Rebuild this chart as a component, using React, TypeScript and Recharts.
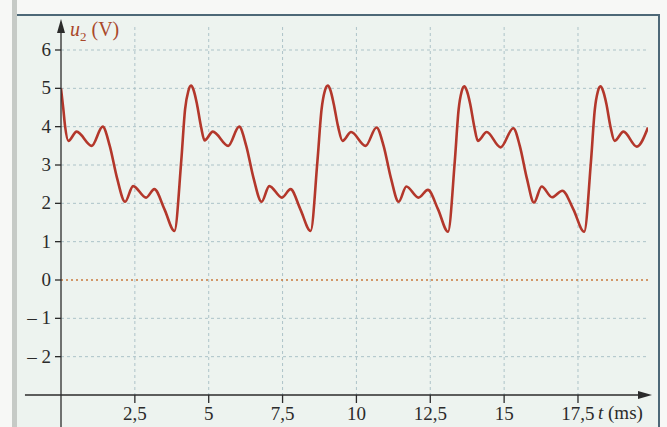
import { LineChart, Line, XAxis, YAxis, CartesianGrid, ReferenceLine } from 'recharts';

// t in ms, u2 in V (local extrema + a few points on the steep parts)
const times = [
  0, 0.08, 0.14, 0.25, 0.53, 1.04, 1.41, 1.65, 1.9, 2.17, 2.44, 2.88, 3.16, 3.5, 3.84, 4.07, 4.2, 4.31,
  4.4, 4.49, 4.6, 4.74, 4.86, 5.14, 5.66, 6.03, 6.27, 6.52, 6.79, 7.05, 7.48, 7.77, 8.1, 8.45, 8.68, 8.82, 8.93,
  9.03, 9.12, 9.23, 9.38, 9.53, 9.82, 10.31, 10.68, 10.92, 11.17, 11.43, 11.69, 12.1, 12.42, 12.76, 13.1, 13.33, 13.46, 13.56,
  13.65, 13.74, 13.85, 13.99, 14.11, 14.41, 14.88, 15.31, 15.53, 15.77, 16.01, 16.27, 16.62, 16.97, 17.34, 17.71, 17.94, 18.07, 18.17,
  18.26, 18.35, 18.46, 18.6, 18.74, 19.04, 19.49, 19.87,
];
const volts = [
  5.0, 4.45, 4.0, 3.63, 3.87, 3.5, 4.0, 3.5, 2.65, 2.04, 2.45, 2.15, 2.37, 1.85, 1.28, 3.1, 4.45, 4.93,
  5.07, 4.95, 4.6, 4.0, 3.64, 3.87, 3.5, 4.0, 3.5, 2.65, 2.04, 2.45, 2.15, 2.37, 1.85, 1.28, 3.1, 4.45, 4.93,
  5.07, 4.95, 4.6, 4.0, 3.63, 3.86, 3.5, 3.98, 3.5, 2.65, 2.04, 2.44, 2.15, 2.35, 1.85, 1.26, 3.1, 4.45, 4.91,
  5.05, 4.93, 4.6, 4.0, 3.63, 3.86, 3.46, 3.96, 3.5, 2.65, 2.02, 2.44, 2.16, 2.33, 1.85, 1.26, 3.1, 4.45, 4.91,
  5.05, 4.93, 4.6, 4.0, 3.63, 3.87, 3.48, 3.98,
];

const xTicks = [2.5, 5, 7.5, 10, 12.5, 15, 17.5];
const xTickLabels = ['2,5', '5', '7,5', '10', '12,5', '15', '17,5'];
const yTicks = [-2, -1, 0, 1, 2, 3, 4, 5, 6];
const yTickLabels = ['– 2', '– 1', '0', '1', '2', '3', '4', '5', '6'];
const gridRows = [-2, -1, 1, 2, 3, 4, 5, 6];

const data = times.map((t, i) => ({ t, u: volts[i] }));

const serif = '"Liberation Serif", "DejaVu Serif", serif';
const ink = '#2b2b2b';
const curve = '#b3372b';
const labelBrown = '#a9482a';

const XTick = ({ x, y, payload }: any) => (
  <text x={x} y={y} dy={15} textAnchor="middle" fill={ink} fontSize={19} fontFamily={serif}>
    {xTickLabels[xTicks.indexOf(payload.value)]}
  </text>
);

const YTick = ({ x, y, payload }: any) => (
  <text x={x} y={y} dy={6} textAnchor="end" fill={ink} fontSize={19} fontFamily={serif} style={{ whiteSpace: 'pre' }}>
    {yTickLabels[yTicks.indexOf(payload.value)]}
  </text>
);

const App = () => {
  return (
    <div style={{ position: 'absolute', left: 0, top: 0, width: 667, height: 427, background: '#f7f8f6', overflow: 'hidden' }}>
      {/* scanned page: grey binding edge + framed panel */}
      <div style={{ position: 'absolute', left: 12, top: 0, width: 5, height: 427, background: '#c6cac6' }} />
      <div
        style={{
          position: 'absolute', left: 17, top: 14, width: 641, height: 420,
          background: '#edf3ef', borderTop: '2px solid #4d6877', borderRight: '2px solid #4d6877',
        }}
      />

      <svg width={0} height={0} style={{ position: 'absolute' }}>
        <defs>
          <marker id="arrowRight" markerWidth={14} markerHeight={10} refX={10} refY={5} orient="0" markerUnits="userSpaceOnUse">
            <path d="M0,1 L14,5 L0,9 Z" fill={ink} />
          </marker>
          <marker id="arrowUp" markerWidth={10} markerHeight={14} refX={5} refY={8} orient="0" markerUnits="userSpaceOnUse">
            <path d="M1,14 L5,0 L9,14 Z" fill={ink} />
          </marker>
        </defs>
      </svg>

      <div style={{ position: 'absolute', left: 0, top: 0 }}>
        <LineChart width={667} height={427} data={data} margin={{ top: 27, right: 19, bottom: 31, left: 60 }}>
          <CartesianGrid
            horizontalValues={gridRows}
            verticalValues={xTicks}
            stroke="#adc3c8"
            strokeDasharray="3 3"
          />
          <ReferenceLine y={0} stroke="#c97a3c" strokeDasharray="2 3" strokeWidth={1.4} />
          <ReferenceLine
            segment={[{ x: -1.22, y: -3 }, { x: 0, y: -3 }]}
            stroke={ink}
            strokeWidth={1.3}
            ifOverflow="visible"
          />
          <ReferenceLine
            segment={[{ x: 0, y: -3 }, { x: 0, y: -3.9 }]}
            stroke={ink}
            strokeWidth={1.3}
            ifOverflow="visible"
          />
          <XAxis
            type="number"
            dataKey="t"
            domain={[0, 19.87]}
            ticks={xTicks}
            height={1}
            tickSize={8}
            tickMargin={2}
            axisLine={{ stroke: ink, strokeWidth: 1.3, markerEnd: 'url(#arrowRight)' }}
            tickLine={{ stroke: ink, strokeWidth: 1.3 }}
            tick={<XTick />}
            interval={0}
            allowDataOverflow
          />
          <YAxis
            type="number"
            domain={[-3, 6.6]}
            ticks={yTicks}
            width={1}
            tickSize={6}
            tickMargin={4}
            axisLine={{ stroke: ink, strokeWidth: 1.3, markerStart: 'url(#arrowUp)' }}
            tickLine={{ stroke: ink, strokeWidth: 1.3 }}
            tick={<YTick />}
            interval={0}
            allowDataOverflow
          />
          <Line
            type="monotone"
            dataKey="u"
            stroke={curve}
            strokeWidth={2.6}
            dot={false}
            activeDot={false}
            isAnimationActive={false}
          />
        </LineChart>
      </div>

      <div style={{ position: 'absolute', left: 70, top: 18, fontFamily: serif, fontSize: 20, color: labelBrown, whiteSpace: 'nowrap' }}>
        <i>u</i>
        <sub style={{ fontSize: 13 }}>2</sub> (V)
      </div>
      <div style={{ position: 'absolute', left: 598, top: 402, fontFamily: serif, fontSize: 19, color: ink, whiteSpace: 'nowrap' }}>
        <i>t</i> (ms)
      </div>
    </div>
  );
};

export default App;
